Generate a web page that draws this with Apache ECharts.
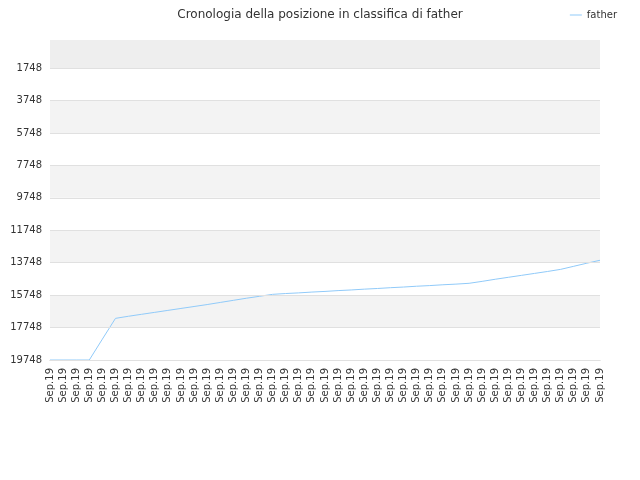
<!DOCTYPE html><html><head><meta charset="utf-8"><script src="https://cdn.jsdelivr.net/npm/echarts@6/dist/echarts.min.js"></script></head><body style="margin:0"><div id="c" style="width:640px;height:480px"></div><script>
const categories = Array(43).fill('Sep.19');
const values = [19748,19748,19748,19748,18460,17180,17050,16930,16810,16690,16570,16450,16330,16200,16070,15940,15820,15700,15650,15610,15560,15520,15470,15430,15380,15340,15290,15250,15200,15160,15110,15070,15020,14900,14770,14650,14530,14410,14290,14160,13970,13780,13600];
const yTicks = [1748,3748,5748,7748,9748,11748,13748,15748,17748,19748];
echarts.init(document.getElementById('c')).setOption({
  title:{text:'Cronologia della posizione in classifica di father',left:'center',top:4,textStyle:{fontSize:12,fontWeight:'normal',color:'#333',fontFamily:'DejaVu Sans'}},
  legend:{right:18,top:5,itemWidth:12,icon:'path://M0,5 L12,5 L12,6 L0,6 Z',textStyle:{fontSize:10,color:'#333',fontFamily:'DejaVu Sans'},data:['father']},
  grid:{left:50,right:40,top:40,bottom:120},
  xAxis:{type:'category',data:categories,boundaryGap:false,axisLine:{lineStyle:{color:'#ccc'}},axisTick:{show:false},axisLabel:{rotate:90,interval:0,fontSize:10,color:'#333',fontFamily:'DejaVu Sans'},splitLine:{show:false}},
  yAxis:{type:'value',inverse:true,min:20,max:19748,axisLine:{show:false},axisTick:{show:false},
    axisLabel:{customValues:yTicks,formatter:v=>String(v),fontSize:10,color:'#333',fontFamily:'DejaVu Sans'},
    splitLine:{show:false},splitArea:{show:false}},
  series:[{name:'father',type:'line',data:values,symbol:'none',lineStyle:{color:'#90caf9',width:1},itemStyle:{color:'#90caf9'},
    markArea:{silent:true,data:[[{yAxis:20,itemStyle:{color:'#eeeeee'}},{yAxis:1748}],[{yAxis:3748,itemStyle:{color:'#f3f3f3'}},{yAxis:5748}],[{yAxis:7748,itemStyle:{color:'#f3f3f3'}},{yAxis:9748}],[{yAxis:11748,itemStyle:{color:'#f3f3f3'}},{yAxis:13748}],[{yAxis:15748,itemStyle:{color:'#f3f3f3'}},{yAxis:17748}]]},
    markLine:{silent:true,symbol:'none',label:{show:false},lineStyle:{color:'#e0e0e0',type:'solid',width:1},data:yTicks.map(v=>({yAxis:v}))}}]
});
</script></body></html>
